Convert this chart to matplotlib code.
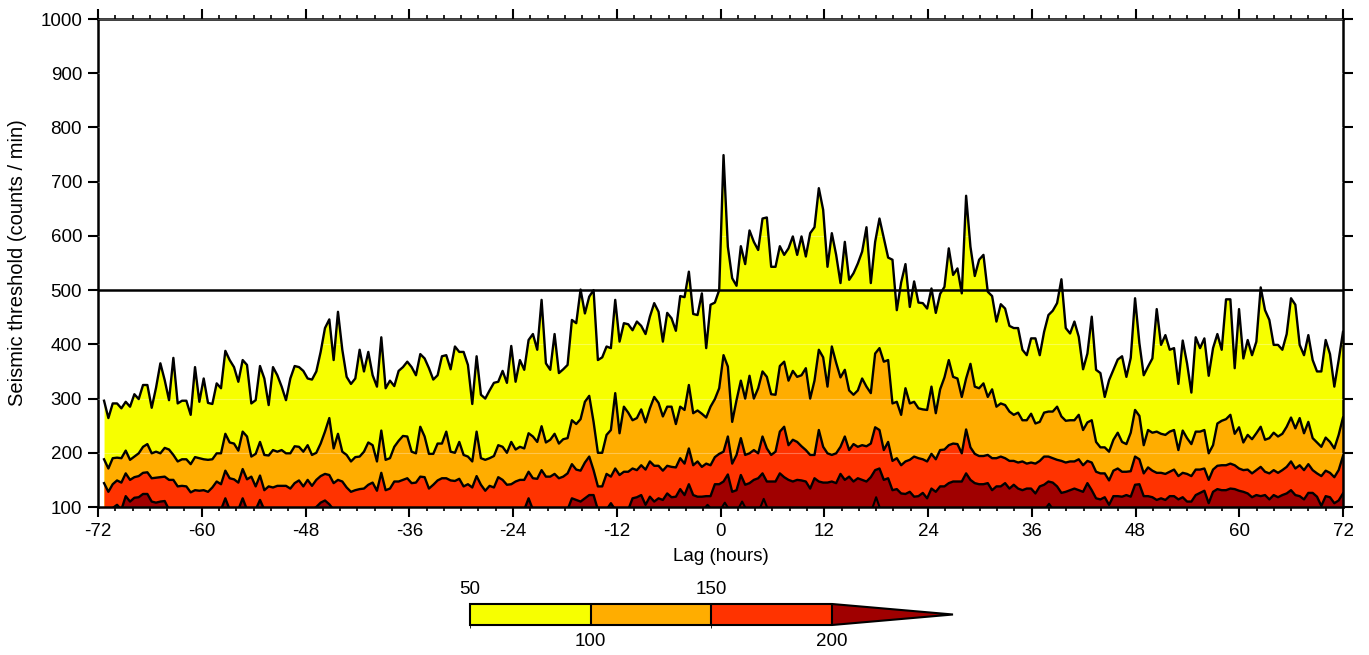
import numpy as np
import matplotlib.pyplot as plt
from matplotlib.colors import ListedColormap, BoundaryNorm
from matplotlib.cm import ScalarMappable
from matplotlib.ticker import MultipleLocator
import matplotlib.transforms as mtransforms

plt.rcParams['font.family'] = ['Liberation Sans', 'DejaVu Sans']
plt.rcParams['axes.unicode_minus'] = False

# contour heights (counts / min) every half hour
level_50 = [
    296, 264, 291, 291, 282, 294, 285, 308, 299, 325, 325, 283, 320, 365, 334, 297, 375, 291, 296, 296,
    270, 358, 294, 337, 292, 290, 328, 319, 388, 371, 358, 331, 371, 362, 291, 297, 360, 337, 288, 358,
    343, 322, 297, 337, 360,
    358, 351, 337, 335, 350, 386, 430, 446, 371, 460, 390, 340, 327, 337, 390, 350, 386, 343, 322, 413,
    319, 333, 323, 351, 358, 368, 358, 343, 382, 374, 356, 335, 343, 378, 380, 354, 396, 386, 386, 362,
    290, 378, 307, 300, 315, 329, 331, 351,
    329, 397, 331, 371, 353, 408, 419, 390, 482, 365, 353, 419, 347, 354, 362, 445, 439, 501, 457, 488,
    500, 371, 376, 396, 393, 482, 405, 439, 437, 426, 442, 434, 419, 451, 476, 460, 405, 458, 448, 425,
    489, 487, 534, 456, 454, 494, 393, 473, 477, 500,
    749,
    580, 522, 508, 581, 548, 610, 589, 574, 632, 634, 543, 543, 581, 565, 577, 599, 565, 599, 562, 605,
    616, 688, 648, 543, 605, 565, 513, 589, 519, 531, 549, 571, 616, 513, 589, 632, 596, 560, 556, 463,
    514, 548, 469, 516, 477, 476, 466,
    503, 458, 493, 506, 577, 528, 540, 494, 674, 580, 526, 556, 565, 497, 489, 442, 474, 466, 434, 430,
    430, 390, 380, 411, 411, 380, 423, 454, 462, 476, 520, 430, 420, 442, 414, 354, 383, 451, 353, 347,
    303, 334, 353, 372, 378, 340, 375,
    485, 402, 343, 359, 374, 465, 399, 417, 390, 393, 327, 407, 365, 311, 413, 393, 411, 342, 393, 419,
    390, 483, 483, 356, 465, 374, 408, 380, 405, 505, 463, 445, 399, 399, 390, 419, 485, 473, 399, 380,
    417, 371, 350, 350, 408, 382, 322, 371, 423,
]
level_100 = [
    188, 171, 190, 191, 190, 204, 187, 193, 199, 211, 216, 199, 202, 199, 209, 206, 196, 184, 188, 188,
    179, 192, 190, 188, 187, 188, 199, 199, 235, 219, 217, 204, 239, 230, 193, 198, 220, 196, 195, 205,
    202, 205, 199, 199, 212,
    211, 202, 214, 196, 200, 217, 239, 264, 208, 235, 202, 196, 184, 192, 193, 202, 219, 214, 184, 241,
    187, 190, 211, 222, 231, 230, 202, 199, 248, 230, 198, 198, 217, 217, 239, 202, 200, 220, 196, 193,
    184, 239, 190, 187, 190, 194, 214, 211,
    200, 220, 206, 211, 208, 236, 230, 220, 249, 219, 224, 235, 217, 225, 227, 260, 253, 262, 294, 305,
    257, 200, 200, 233, 242, 310, 236, 285, 274, 260, 264, 280, 256, 282, 303, 292, 267, 285, 285, 253,
    285, 279, 325, 273, 278, 272, 265, 285, 299, 319,
    380,
    359, 257, 297, 333, 300, 342, 300, 319, 350, 340, 308, 307, 360, 368, 333, 351, 340, 343, 356, 300,
    333, 390, 376, 322, 396, 366, 339, 353, 315, 307, 315, 337, 322, 310, 383, 393, 368, 371, 291, 294,
    270, 319, 291, 294, 282, 280, 279,
    322, 273, 317, 339, 371, 340, 337, 303, 337, 364, 322, 319, 328, 303, 317, 285, 291, 288, 276, 270,
    274, 260, 260, 272, 254, 257, 274, 276, 276, 285, 267, 259, 260, 260, 270, 242, 256, 260, 220, 210,
    210, 202, 224, 237, 220, 216, 237,
    279, 268, 214, 242, 237, 239, 235, 233, 239, 242, 205, 241, 227, 216, 239, 239, 242, 199, 214, 254,
    259, 262, 270, 235, 247, 219, 233, 225, 236, 248, 224, 227, 237, 230, 235, 248, 265, 245, 264, 236,
    257, 227, 219, 211, 228, 220, 208, 233, 265,
]
level_150 = [
    144, 128, 142, 149, 145, 162, 150, 155, 157, 163, 164, 153, 154, 155, 156, 150, 150, 138, 139, 138,
    127, 131, 130, 131, 128, 136, 147, 142, 167, 153, 151, 145, 170, 151, 156, 138, 158, 131, 138, 136,
    139, 139, 139, 134, 144,
    149, 138, 150, 139, 150, 157, 161, 159, 144, 150, 147, 136, 128, 131, 133, 134, 141, 145, 130, 163,
    131, 134, 147, 147, 150, 153, 144, 145, 156, 155, 134, 141, 149, 153, 153, 149, 148, 152, 138, 142,
    136, 157, 141, 130, 139, 136, 155, 150,
    141, 142, 147, 150, 150, 165, 153, 152, 168, 156, 156, 161, 153, 156, 162, 179, 169, 167, 182, 193,
    168, 138, 138, 161, 156, 171, 159, 165, 165, 171, 168, 177, 169, 184, 176, 176, 167, 176, 174, 173,
    190, 180, 208, 177, 184, 174, 180, 177, 192, 198,
    202,
    230, 180, 196, 227, 196, 199, 205, 199, 230, 208, 196, 202, 239, 248, 214, 224, 220, 212, 205, 196,
    196, 242, 211, 199, 196, 199, 211, 230, 205, 216, 211, 214, 212, 217, 247, 242, 205, 220, 185, 190,
    177, 184, 187, 193, 190, 188, 184,
    198, 188, 205, 206, 214, 217, 216, 199, 243, 210, 198, 194, 194, 196, 190, 190, 193, 190, 185, 185,
    182, 184, 180, 182, 180, 185, 193, 193, 190, 187, 185, 182, 184, 184, 188, 177, 185, 182, 165, 162,
    162, 149, 167, 171, 165, 165, 166,
    193, 188, 162, 173, 167, 163, 163, 161, 165, 169, 157, 163, 161, 157, 169, 169, 171, 150, 169, 176,
    177, 177, 180, 177, 171, 168, 169, 162, 168, 174, 165, 162, 168, 163, 168, 174, 184, 171, 177, 168,
    179, 168, 162, 157, 167, 163, 155, 168, 194,
]
level_200 = [
    95, 95, 98, 104, 95, 120, 110, 117, 118, 124, 124, 110, 108, 110, 111, 95, 95, 95, 95, 95,
    95, 95, 95, 95, 95, 95, 95, 95, 116, 95, 95, 95, 116, 95, 95, 95, 113, 95, 95, 95,
    95, 95, 95, 95, 95,
    95, 95, 95, 95, 100, 108, 112, 105, 95, 95, 95, 95, 95, 95, 95, 95, 95, 95, 95, 95,
    95, 95, 95, 95, 95, 95, 95, 95, 95, 95, 95, 95, 95, 95, 95, 95, 95, 95, 95, 95,
    95, 95, 95, 95, 95, 95, 95, 95,
    95, 95, 95, 95, 95, 116, 95, 95, 95, 95, 95, 95, 95, 95, 95, 116, 113, 110, 116, 122,
    122, 95, 95, 95, 107, 95, 95, 95, 95, 116, 118, 122, 104, 119, 110, 116, 113, 125, 118, 119,
    133, 122, 142, 122, 119, 119, 120, 120, 142, 142,
    147,
    160, 128, 131, 159, 141, 144, 150, 153, 162, 147, 147, 147, 162, 155, 150, 147, 150, 149, 147, 134,
    153, 147, 145, 145, 147, 144, 161, 150, 156, 147, 153, 150, 147, 155, 168, 171, 150, 153, 131, 133,
    125, 124, 128, 119, 120, 126, 116,
    134, 128, 138, 138, 144, 147, 147, 147, 162, 150, 144, 142, 142, 144, 131, 138, 138, 144, 134, 141,
    134, 131, 134, 134, 125, 138, 141, 147, 145, 138, 126, 128, 131, 134, 131, 128, 144, 131, 116, 114,
    118, 104, 120, 120, 119, 122, 119,
    141, 142, 120, 120, 118, 113, 116, 113, 120, 120, 114, 118, 110, 110, 122, 126, 130, 107, 128, 133,
    131, 131, 134, 133, 130, 128, 125, 118, 122, 120, 122, 114, 122, 118, 122, 125, 131, 122, 120, 114,
    126, 126, 119, 102, 120, 118, 107, 112, 125,
]
# the few spots where the 250 level pokes above the axis floor
level_250_lag = [-1.5, 0.5, 2.5, 5.0, 18.0, 38.0]
level_250_val = [104, 108, 110, 115, 118, 106]

lag_first, lag_last = -71.3, 72.0
threshold = 500
levels = [50, 100, 150, 200]
level_colors = ['#f7ff00', '#ffad00', '#ff3300', '#a00000']
xticks = np.arange(-72, 73, 12)
yticks = np.arange(100, 1001, 100)

lag = np.linspace(lag_first, lag_last, len(level_50))
series = [level_50, level_100, level_150, level_200]

fig = plt.figure(figsize=(13.69, 6.55), dpi=100)
ax = fig.add_axes([98 / 1369, 1 - 507 / 655, 1245 / 1369, 488 / 655])

for vals, col in zip(series, level_colors):
    ax.fill_between(lag, 0, vals, color=col, lw=0, zorder=1)
for vals in series:
    ax.plot(lag, vals, color='black', lw=1.7, zorder=3)

for l, v in zip(level_250_lag, level_250_val):
    bx = [l - 0.5, l, l + 0.5]
    by = [95, v, 95]
    ax.fill_between(bx, 0, by, color=level_colors[-1], lw=0, zorder=1)
    ax.plot(bx, by, color='black', lw=1.5, zorder=3)

ax.axhline(threshold, color='black', lw=1.8, zorder=4)

ax.set_axisbelow(False)
ax.yaxis.grid(True, color='white', alpha=0.3, lw=0.8)

ax.set_xlim(-72, 72)
ax.set_ylim(100, 1000)
ax.set_xticks(xticks)
ax.set_yticks(yticks)
ax.xaxis.set_minor_locator(MultipleLocator(2))
ax.tick_params(which='major', direction='out', length=7.5, width=1.5,
               top=True, right=True, labelsize=13.5, pad=4)
ax.tick_params(which='minor', direction='out', length=3, width=1.2, top=True, bottom=True)
for s in ax.spines.values():
    s.set_linewidth(1.8)

ax.set_xlabel('Lag (hours)', fontsize=13.5)
ax.set_ylabel('Seismic threshold (counts / min)', fontsize=14.5)
ax.xaxis.set_label_coords(0.5, -0.085)
ax.yaxis.set_label_coords(-0.057, 0.5)

# colour key; the axes box includes the pointed "over" end
cax = fig.add_axes([470 / 1369, 1 - 625 / 655, 483 / 1369, 21 / 655])
cmap = ListedColormap(level_colors[:3])
cmap.set_over(level_colors[3])
norm = BoundaryNorm(levels, cmap.N)
cb = fig.colorbar(ScalarMappable(norm=norm, cmap=cmap), cax=cax, orientation='horizontal',
                  extend='max', extendfrac=0.334, drawedges=True)
cb.outline.set_linewidth(1.5)
cb.outline.set_edgecolor('black')
cb.dividers.set_linewidth(1.5)
cb.dividers.set_color('black')
cb.set_ticks([100, 200])
cb.set_ticklabels(['100', '200'])
cax.tick_params(length=0, labelsize=13.5, pad=6)
trans = mtransforms.blended_transform_factory(cax.transData, cax.transAxes)
for v in [50, 150]:
    cax.text(v, 1.3, str(v), transform=trans, ha='center', va='bottom', fontsize=13.5)

fig.savefig('out.png', dpi=100)
